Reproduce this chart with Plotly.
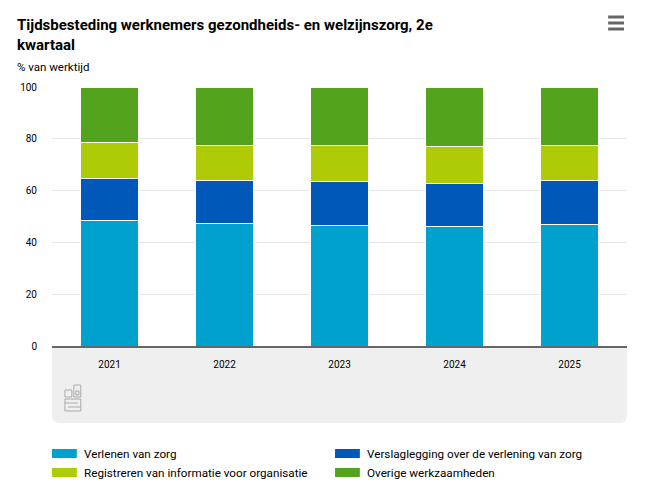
import plotly.graph_objs as go

# data (% van werktijd, 2e kwartaal)
years = ['2021', '2022', '2023', '2024', '2025']
series_names = ['Verlenen van zorg', 'Verslaglegging over de verlening van zorg',
                'Registreren van informatie voor organisatie', 'Overige werkzaamheden']
verlenen = [48.5, 47.4, 46.6, 46.2, 47.0]
verslaglegging = [16.3, 16.6, 17.0, 16.6, 17.0]
registreren = [13.9, 13.6, 14.0, 14.1, 13.6]
overige = [21.3, 22.4, 22.4, 23.1, 22.4]
colors = ['#00a1cd', '#0058b8', '#afcb05', '#53a31d']

W, H = 650, 493
OFF = 8  # page body margin; positions below are screen pixels
L, R, T, B = 48 - OFF, W - 627 + OFF, 87 - OFF, H - 346 + OFF
font = 'Roboto, Noto Sans, sans-serif'


def px(x):
    # screen pixel x -> paper x
    return (x - OFF - L) / (W - L - R)


def py(y):
    # screen pixel y -> paper y
    return (H - B - (y - OFF)) / (H - T - B)


fig = go.Figure()
for name, vals, col in zip(series_names, [verlenen, verslaglegging, registreren, overige], colors):
    fig.add_trace(go.Bar(x=years, y=vals, name=name, marker=dict(color=col, line=dict(color='white', width=1)),
                         showlegend=False))

shapes = []
# grey band below the x axis with rounded bottom corners
x0, x1, y0, y1 = px(48), px(627), py(346), py(423)
rx, ry = 8 / (W - L - R), 8 / (H - T - B)
shapes.append(dict(type='path', xref='paper', yref='paper', layer='below', line=dict(width=0),
                   fillcolor='#efefef',
                   path=f'M {x0},{y0} L {x1},{y0} L {x1},{y1 + ry} Q {x1},{y1} {x1 - rx},{y1} '
                        f'L {x0 + rx},{y1} Q {x0},{y1} {x0},{y1 + ry} Z'))
# hamburger menu icon
for yy in [17, 23, 29]:
    shapes.append(dict(type='line', xref='paper', yref='paper', x0=px(608), x1=px(624), y0=py(yy), y1=py(yy),
                       line=dict(color='#666666', width=3)))
# cbs logo (rough outline)
lg = dict(color='#aaaaaa', width=1)
for (a, b, c, d) in [(61, 390, 68, 397), (70, 385, 77, 397), (61, 399, 77, 411)]:
    shapes.append(dict(type='rect', xref='paper', yref='paper', x0=px(a), x1=px(c), y0=py(b), y1=py(d), line=lg))
shapes.append(dict(type='path', xref='paper', yref='paper', line=lg,
                   path=f'M {px(61)},{py(403)} L {px(74)},{py(403)} M {px(64)},{py(407)} L {px(77)},{py(407)} '
                        f'M {px(72)},{py(391)} L {px(75)},{py(391)} L {px(75)},{py(395)} L {px(72)},{py(395)} Z'))

annotations = [
    dict(text='<b>Tijdsbesteding werknemers gezondheids- en welzijnszorg, 2e</b>', x=px(11), y=py(14),
         xanchor='left', yanchor='top', font=dict(size=15, color='#000000')),
    dict(text='<b>kwartaal</b>', x=px(11), y=py(34), xanchor='left', yanchor='top',
         font=dict(size=15, color='#000000')),
    dict(text='% van werktijd', x=px(11), y=py(58), xanchor='left', yanchor='top',
         font=dict(size=11.5, color='#000000')),
]
# legend drawn by hand: two columns
legend_pos = [(48, 449), (333, 449), (48, 468), (333, 468)]
for name, col, (lx, ly) in zip(series_names, colors, legend_pos):
    shapes.append(dict(type='rect', xref='paper', yref='paper', x0=px(lx), x1=px(lx + 25), y0=py(ly),
                       y1=py(ly + 9), fillcolor=col, line=dict(width=0)))
    annotations.append(dict(text=name, x=px(lx + 30), y=py(ly + 4.5), xanchor='left', yanchor='middle',
                            font=dict(size=11.7, color='#000000')))
for a in annotations:
    a.update(xref='paper', yref='paper', showarrow=False)

fig.update_layout(width=W, height=H, margin=dict(l=L, r=R, t=T, b=B), barmode='stack', bargap=0.5,
                  plot_bgcolor='white', paper_bgcolor='white', font=dict(family=font, size=10, color='#000000'),
                  shapes=shapes, annotations=annotations,
                  xaxis=dict(showline=True, linecolor='#666666', linewidth=2, ticks='', ticklabelstandoff=8,
                             tickfont=dict(size=10)),
                  yaxis=dict(range=[0, 100], dtick=20, gridcolor='#e6e6e6', zeroline=False, ticks='',
                             ticklabelstandoff=14, tickfont=dict(size=10)))
fig.write_html('out.html')
